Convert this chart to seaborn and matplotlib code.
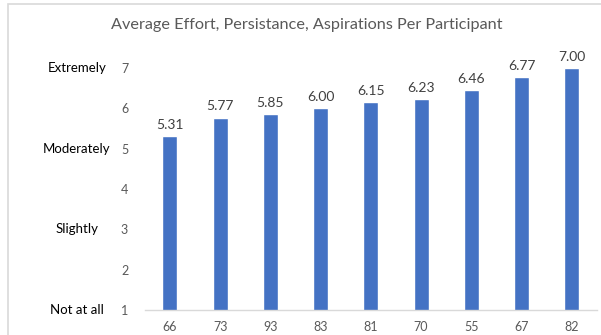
import numpy as np
import pandas as pd
import matplotlib
matplotlib.use("Agg")
import matplotlib.pyplot as plt
import seaborn as sns
from matplotlib.patches import Rectangle

# data
participants = ["66", "73", "93", "83", "81", "70", "55", "67", "82"]
averages = [5.31, 5.77, 5.85, 6.00, 6.15, 6.23, 6.46, 6.77, 7.00]
y_ticks = [1, 2, 3, 4, 5, 6, 7]
scale_values = [7, 5, 3, 1]
scale_names = ["Extremely", "Moderately", "Slightly", "Not at all"]

df = pd.DataFrame({"participant": participants, "average": averages})

sns.set_theme(style="white")
plt.rcParams["font.family"] = ["Lato", "DejaVu Sans"]

fig = plt.figure(figsize=(6.01, 3.35), dpi=100)
ax = fig.add_axes([0.241, 0.075, 0.752, 0.758])

# bars start at 1 (axis floor)
sns.barplot(data=df, x="participant", y="average", color="#4472C4",
            width=0.3, saturation=1, ax=ax, order=participants)
ax.set_ylim(1, 7.3)
ax.set_xlim(-0.5, len(participants) - 0.5)

for i, v in enumerate(averages):
    ax.text(i, v + 0.13, f"{v:.2f}", ha="center", va="bottom",
            fontsize=10, color="#404040", clip_on=False)

ax.set_yticks(y_ticks)
ax.tick_params(axis="both", length=0, labelsize=9, labelcolor="#595959")
ax.tick_params(axis="y", pad=12)
ax.tick_params(axis="x", pad=8)
ax.set_xlabel("")
ax.set_ylabel("")
for s in ["top", "right", "left"]:
    ax.spines[s].set_visible(False)
ax.spines["bottom"].set_color("#D9D9D9")
ax.spines["bottom"].set_linewidth(1)

for val, name in zip(scale_values, scale_names):
    ax.text(-0.15, val, name, transform=ax.get_yaxis_transform(),
            ha="center", va="center", fontsize=9.5, color="black")

fig.text(0.511, 0.925, "Average Effort, Persistance, Aspirations Per Participant",
         ha="center", va="center", fontsize=11.7, color="#595959")

# outer chart frame
fig.patches.append(Rectangle((8 / 601, -0.02), 1.1, 1 - 4 / 335 + 0.02,
                             transform=fig.transFigure, fill=False,
                             edgecolor="#D9D9D9", linewidth=1.2))

fig.savefig("out.png", dpi=100)
